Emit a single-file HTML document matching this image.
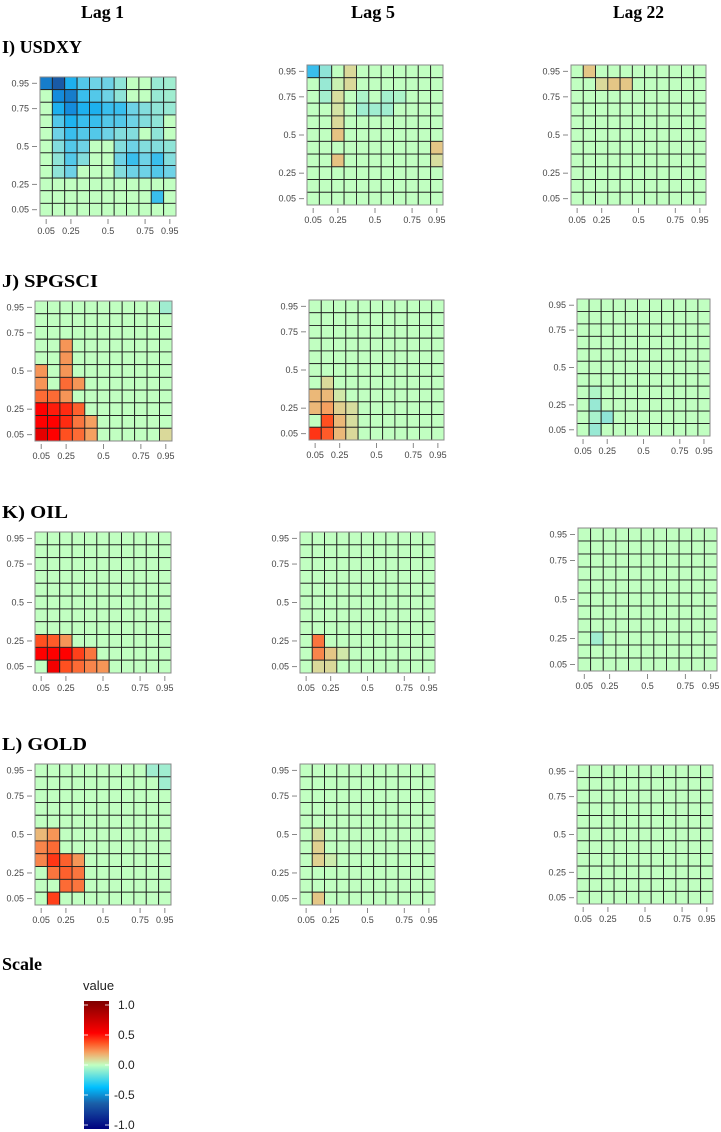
<!DOCTYPE html>
<html><head><meta charset="utf-8"><style>
html,body{margin:0;padding:0;background:#fff;}
svg{display:block;}
</style></head><body>
<svg id="chart" width="721" height="1132" xmlns="http://www.w3.org/2000/svg">
<defs>
<linearGradient id="scaleGrad" x1="0" y1="1" x2="0" y2="0">
<stop offset="0" stop-color="#00007f"/><stop offset="0.2" stop-color="#1a5fa8"/><stop offset="0.325" stop-color="#00bfff"/><stop offset="0.5" stop-color="#c1ffc1"/><stop offset="0.55" stop-color="#e0d090"/><stop offset="0.6" stop-color="#f5a060"/><stop offset="0.675" stop-color="#ff5020"/><stop offset="0.75" stop-color="#ff0000"/><stop offset="1" stop-color="#7f0000"/>
</linearGradient>
</defs>
<g font-family="Liberation Serif, serif" font-weight="bold" font-size="18" fill="#000">
<text x="81" y="18" textLength="43" lengthAdjust="spacingAndGlyphs">Lag 1</text>
<text x="351" y="18" textLength="44" lengthAdjust="spacingAndGlyphs">Lag 5</text>
<text x="613" y="18" textLength="51" lengthAdjust="spacingAndGlyphs">Lag 22</text>
<text x="2" y="53" textLength="80" lengthAdjust="spacingAndGlyphs">I) USDXY</text>
<text x="2" y="287" textLength="96" lengthAdjust="spacingAndGlyphs">J) SPGSCI</text>
<text x="2" y="518" textLength="66" lengthAdjust="spacingAndGlyphs">K) OIL</text>
<text x="2" y="750" textLength="85" lengthAdjust="spacingAndGlyphs">L) GOLD</text>
<text x="2" y="970" textLength="40" lengthAdjust="spacingAndGlyphs">Scale</text>
</g>
<g id="panels"></g>
<g>
<text x="83" y="990" font-family="Liberation Sans, sans-serif" font-size="13" fill="#222">value</text>
<rect x="84" y="1001" width="25" height="128" fill="url(#scaleGrad)"/>
<g id="legendTicks" font-family="Liberation Sans, sans-serif" font-size="12" fill="#222"></g>
</g>
</svg>
<script>
// quantile levels (rows from top = 0.95 down to 0.05, columns left to right)
const quantiles = [0.05,0.1,0.2,0.3,0.4,0.5,0.6,0.7,0.8,0.9,0.95];
const tickLabels = ["0.05","0.25","0.5","0.75","0.95"];
const tickIndex = [0,2,5,8,10];
const legendTickValues = [1.0,0.5,0.0,-0.5,-1.0];

// sparse cells: [rowFromTop, col, value]; unspecified cells = 0
const usdxyLag1 = [
[0,0,-0.5],[0,1,-0.62],[0,2,-0.36],[0,3,-0.25],[0,4,-0.2],[0,5,-0.2],[0,6,-0.12],[0,9,-0.1],[0,10,-0.08],
[1,1,-0.45],[1,2,-0.5],[1,3,-0.3],[1,4,-0.25],[1,5,-0.2],[1,6,-0.12],[1,9,-0.1],[1,10,-0.08],
[2,1,-0.36],[2,2,-0.45],[2,3,-0.36],[2,4,-0.36],[2,5,-0.3],[2,6,-0.3],[2,7,-0.2],[2,8,-0.15],[2,9,-0.12],[2,10,-0.1],
[3,1,-0.25],[3,2,-0.35],[3,3,-0.3],[3,4,-0.3],[3,5,-0.25],[3,6,-0.25],[3,7,-0.2],[3,8,-0.15],[3,9,-0.12],
[4,1,-0.2],[4,2,-0.3],[4,3,-0.25],[4,4,-0.25],[4,5,-0.2],[4,6,-0.15],[4,7,-0.15],[4,9,-0.12],
[5,1,-0.15],[5,2,-0.25],[5,3,-0.2],[5,6,-0.15],[5,7,-0.2],[5,8,-0.15],[5,9,-0.15],[5,10,-0.12],
[6,1,-0.12],[6,2,-0.25],[6,3,-0.15],[6,6,-0.2],[6,7,-0.3],[6,8,-0.2],[6,9,-0.3],[6,10,-0.15],
[7,1,-0.12],[7,2,-0.2],[7,6,-0.15],[7,7,-0.2],[7,8,-0.2],[7,9,-0.25],[7,10,-0.2],
[9,9,-0.3]];
const usdxyLag5 = [
[0,0,-0.3],[0,1,-0.12],[0,3,0.08],[1,1,-0.1],[1,2,0.03],[1,3,0.08],
[2,1,-0.07],[2,2,0.07],[2,4,-0.05],[2,6,-0.07],[2,7,-0.05],
[3,2,0.06],[3,4,-0.08],[3,5,-0.08],[3,6,-0.08],[4,2,0.08],[5,2,0.13],
[6,10,0.12],[7,2,0.13],[7,10,0.07]];
const usdxyLag22 = [[0,1,0.12],[1,2,0.08],[1,3,0.12],[1,4,0.12]];
const spgsciLag1 = [
[0,10,-0.08],[3,2,0.22],[4,2,0.22],[5,0,0.22],[5,2,0.22],[6,0,0.22],[6,2,0.3],[6,3,0.22],
[7,0,0.3],[7,1,0.3],[7,2,0.22],[8,0,0.5],[8,1,0.45],[8,2,0.42],[8,3,0.32],
[9,0,0.5],[9,1,0.5],[9,2,0.42],[9,3,0.28],[9,4,0.2],
[10,0,0.6],[10,1,0.5],[10,2,0.35],[10,3,0.3],[10,4,0.2],[10,10,0.08]];
const spgsciLag5 = [
[6,1,0.08],[7,0,0.15],[7,1,0.15],[7,2,0.05],[8,0,0.15],[8,1,0.2],[8,2,0.1],[8,3,0.07],
[9,1,0.35],[9,2,0.15],[9,3,0.07],[10,0,0.4],[10,1,0.33],[10,2,0.15],[10,3,0.08]];
const spgsciLag22 = [[7,1,-0.04],[8,1,-0.1],[9,1,-0.06],[9,2,-0.12],[10,1,-0.1]];
const oilLag1 = [
[8,0,0.35],[8,1,0.33],[8,2,0.22],[9,0,0.5],[9,1,0.5],[9,2,0.5],[9,3,0.38],[9,4,0.28],
[10,1,0.55],[10,2,0.35],[10,3,0.3],[10,4,0.25],[10,5,0.22]];
const oilLag5 = [[8,1,0.28],[9,1,0.25],[9,2,0.12],[9,3,0.05],[10,1,0.08],[10,2,0.08]];
const oilLag22 = [[8,1,-0.08]];
const goldLag1 = [
[0,9,-0.08],[0,10,-0.08],[1,10,-0.08],[5,0,0.15],[5,1,0.22],[6,0,0.25],[6,1,0.3],
[7,0,0.25],[7,1,0.4],[7,2,0.32],[7,3,0.22],[8,1,0.28],[8,2,0.32],[8,3,0.28],
[9,2,0.3],[9,3,0.28],[10,1,0.38]];
const goldLag5 = [[5,1,0.07],[6,1,0.1],[7,1,0.1],[7,2,0.04],[10,1,0.12]];
const goldLag22 = [];

const panels = [
 {name:"usdxy-lag-1",data:usdxyLag1,box:[40,77,176,216]},
 {name:"usdxy-lag-5",data:usdxyLag5,box:[307,65,443,205]},
 {name:"usdxy-lag-22",data:usdxyLag22,box:[571,65,706,205]},
 {name:"spgsci-lag-1",data:spgsciLag1,box:[35,301,172,441]},
 {name:"spgsci-lag-5",data:spgsciLag5,box:[309,300,444,440]},
 {name:"spgsci-lag-22",data:spgsciLag22,box:[577,299,710,436]},
 {name:"oil-lag-1",data:oilLag1,box:[35,532,171,673]},
 {name:"oil-lag-5",data:oilLag5,box:[300,532,435,673]},
 {name:"oil-lag-22",data:oilLag22,box:[578,528,717,671]},
 {name:"gold-lag-1",data:goldLag1,box:[35,764,171,905]},
 {name:"gold-lag-5",data:goldLag5,box:[300,764,435,905]},
 {name:"gold-lag-22",data:goldLag22,box:[577,765,713,904]}
];

const stops=[[-1,[0,0,127]],[-0.6,[26,95,168]],[-0.45,[20,140,220]],[-0.35,[30,180,240]],[-0.2,[110,210,230]],[0,[193,255,193]],[0.1,[224,208,144]],[0.2,[245,160,96]],[0.35,[255,80,32]],[0.5,[255,0,0]],[1,[127,0,0]]];
function colorOf(v){
  v=Math.max(-1,Math.min(1,v));
  for(let i=0;i<stops.length-1;i++){
    const a=stops[i],b=stops[i+1];
    if(v>=a[0]&&v<=b[0]){const t=(v-a[0])/(b[0]-a[0]);
      const c=a[1].map((x,k)=>Math.round(x+(b[1][k]-x)*t));return `rgb(${c[0]},${c[1]},${c[2]})`;}
  }
  return "rgb(193,255,193)";
}
const NS="http://www.w3.org/2000/svg";
function mk(tag,attrs,parent){const e=document.createElementNS(NS,tag);for(const k in attrs)e.setAttribute(k,attrs[k]);parent.appendChild(e);return e;}
const root=document.getElementById("panels");
const n=quantiles.length;
panels.forEach(p=>{
  const [x0,y0,x1,y1]=p.box;
  const cw=(x1-x0)/n, ch=(y1-y0)/n;
  const xPos=c=>x0+c*cw, yPos=r=>y0+r*ch;
  const g=mk("g",{},root);
  
  
  const vals=[];for(let r=0;r<n;r++){vals.push(new Array(n).fill(0));}
  p.data.forEach(d=>{vals[d[0]][d[1]]=d[2];});
  for(let r=0;r<n;r++)for(let c=0;c<n;c++){
    const rc=mk("rect",{x:xPos(c),y:yPos(r),width:cw,height:ch,fill:colorOf(vals[r][c]),stroke:"#222","stroke-width":"0.9"},g);
    
    
  }
  mk("rect",{x:x0,y:y0,width:x1-x0,height:y1-y0,fill:"none",stroke:"#888","stroke-width":"1"},g);
  tickIndex.forEach((ti,k)=>{
    const cx=xPos(ti)+cw/2, cy=yPos(n-1-ti)+ch/2;
    mk("line",{x1:cx,y1:y1+3,x2:cx,y2:y1+8,stroke:"#888","stroke-width":"1"},g);
    const tx=mk("text",{x:cx,y:y1+18,"text-anchor":"middle","font-family":"Liberation Sans, sans-serif","font-size":"9",fill:"#444"},g);
    tx.textContent=tickLabels[k];
    
    
    mk("line",{x1:x0-8,y1:cy,x2:x0-3,y2:cy,stroke:"#888","stroke-width":"1"},g);
    const ty=mk("text",{x:x0-11,y:cy+3,"text-anchor":"end","font-family":"Liberation Sans, sans-serif","font-size":"9",fill:"#444"},g);
    ty.textContent=tickLabels[k];
    
    
  });
});
const lt=document.getElementById("legendTicks");
legendTickValues.forEach(v=>{
  const y=1065-v*60;
  mk("line",{x1:84,y1:y,x2:88,y2:y,stroke:"#fff","stroke-width":"0.8"},lt);
  mk("line",{x1:105,y1:y,x2:109,y2:y,stroke:"#fff","stroke-width":"0.8"},lt);
  const t=mk("text",{x:v<0?114:118,y:y+4},lt);
  t.textContent=v.toFixed(1);
  
  
});
</script>
</body></html>
